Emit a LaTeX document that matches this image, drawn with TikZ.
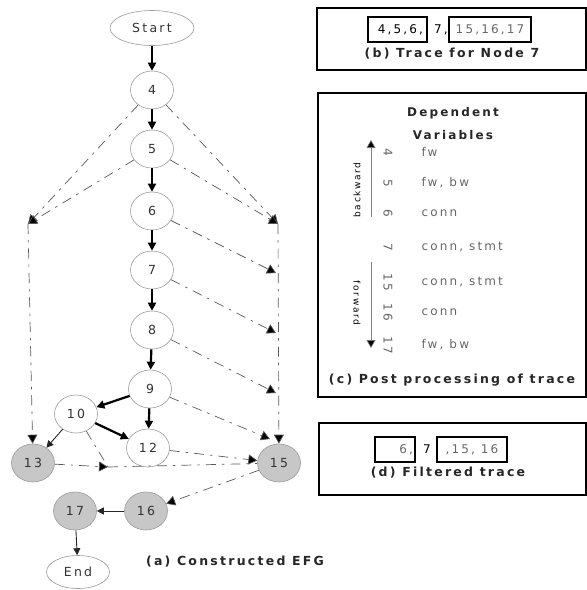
\documentclass[tikz,border=0pt]{standalone}
\usepackage{fontspec}
\setmainfont{DejaVu Sans}[LetterSpace=18]
\usetikzlibrary{arrows.meta,shapes.geometric}

\begin{document}
\begin{tikzpicture}[x=1pt,y=-1pt,
  every node/.style={font=\fontsize{12}{14}\selectfont},
  vtx/.style={ellipse, draw=black!40, line width=0.6pt, minimum width=43pt, minimum height=38pt, inner sep=0pt, text=black!80, font=\fontsize{12.5}{14}\selectfont},
  hit/.style={vtx, fill=black!22},
  term/.style={vtx, minimum width=64pt, minimum height=34pt},
  flow/.style={line width=2.2pt, -{Triangle[length=8pt,width=8pt]}},
  link/.style={line width=0.9pt, black!85, -{Triangle[length=7pt,width=7pt]}},
  dep/.style={line width=0.7pt, black!65, dash pattern=on 10pt off 6pt on 2.5pt off 6pt},
  deparr/.style={dep, -{Triangle[length=9pt,width=10pt,fill=black]}},
  panel/.style={draw, line width=1.3pt},
  seg/.style={draw, line width=1.1pt, minimum height=25pt, inner sep=0pt},
  caption/.style={font=\fontsize{12.5}{14}\selectfont\bfseries, text=black!85},
  val/.style={text=black!60},
]
\useasboundingbox (0,0) rectangle (587,590);

% ---------- (a) the constructed EFG ----------
\node[term, minimum width=84pt, minimum height=35pt] (start) at (152,28) {Start};
\node[vtx] (n4) at (152,90) {4};
\node[vtx] (n5) at (152,149) {5};
\node[vtx] (n6) at (152,211) {6};
\node[vtx] (n7) at (152,270) {7};
\node[vtx] (n8) at (152,330) {8};
\node[vtx] (n9) at (150,389) {9};
\node[vtx] (n10) at (76,414) {10};
\node[vtx] (n12) at (148,448) {12};
\node[hit] (n13) at (33,463) {13};
\node[hit] (n15) at (279,463) {15};
\node[hit] (n16) at (146,511) {16};
\node[hit] (n17) at (75,511) {17};
\node[term, minimum width=63pt, minimum height=33pt] (end) at (78,572) {End};

% junction points of the dependence edges
\coordinate (jl) at (28,224);
\coordinate (jr1) at (278,224);
\coordinate (jr2) at (276,273);
\coordinate (jr3) at (276,333);
\coordinate (jr4) at (276,393);
\coordinate (jr5) at (270,439);
\coordinate (jm) at (108,467);

% control flow
\draw[flow] (start) -- (n4);
\draw[flow] (n4) -- (n5);
\draw[flow] (n5) -- (n6);
\draw[flow] (n6) -- (n7);
\draw[flow] (n7) -- (n8);
\draw[flow] (n8) -- (n9);
\draw[flow] (n9) -- (n10);
\draw[flow] (n9) -- (n12);
\draw[flow] (n10) -- (n12);
\draw[link] (n10) -- (n13);
\draw[link] (n16) -- (n17);
\draw[link] (n17) -- (end);

% dependence edges
\draw[deparr] (n4) -- (jl);
\draw[deparr] (n5) -- (jl);
\draw[deparr] (jl) -- (n13);
\draw[deparr] (n4) -- (jr1);
\draw[deparr] (n5) -- (jr1);
\draw[deparr] (jr1) -- (n15);
\draw[deparr] (n6) -- (jr2);
\draw[deparr] (n7) -- (jr3);
\draw[deparr] (n8) -- (jr4);
\draw[deparr] (n9) -- (jr5);
\draw[deparr] (n12) -- (n15);
\draw[deparr] (n13) -- (jm);
\draw[dep] (n10) -- (jm);
\draw[dep] (jm) -- (n15);
\draw[deparr] (n15) -- (n16);

\node[caption] (capa) at (235,562) {(a) Constructed EFG};

% ---------- (b) trace for node 7 ----------
\draw[panel] (317,8) rectangle (586,70);
\node[seg, minimum width=59pt] (b1) at (397.5,29.5) {\hspace{6pt}4,5,6,};
\node (b2) at (441,29.5) {7,};
\node[seg, minimum width=82pt, val] (b3) at (490,29.5) {15,16,17};
\node[caption] (capb) at (452,54) {(b) Trace for Node 7};

% ---------- (c) post processing of trace ----------
\draw[panel] (318,93) rectangle (586,397);
\node[caption, font=\fontsize{12}{14}\selectfont\bfseries] (dep1) at (453,113) {Dependent};
\node[caption, font=\fontsize{12}{14}\selectfont\bfseries] (dep2) at (453,135) {Variables};
\foreach \k/\y/\v in {4/152/fw, 5/183/{fw, bw}, 6/213/conn, 7/247/{conn, stmt},
                      15/282/{conn, stmt}, 16/312/conn, 17/345/{fw, bw}} {
  \node[val, rotate=-90] (num\k) at (388,\y) {\k};
  \node[val, anchor=west] (var\k) at (418,\y) {\v};
}
\coordinate (bwlo) at (371,217);
\coordinate (bwhi) at (371,140);
\coordinate (fwhi) at (371,262);
\coordinate (fwlo) at (371,348);
\draw[line width=0.6pt, black!50, -{Triangle[length=8pt,width=9pt,fill=black]}] (bwlo) -- (bwhi);
\draw[line width=0.6pt, black!50, -{Triangle[length=8pt,width=9pt,fill=black]}] (fwhi) -- (fwlo);
\node[rotate=90, font=\fontsize{9}{10}\selectfont] (bwl) at (357,190) {backward};
\node[rotate=-90, font=\fontsize{9}{10}\selectfont] (fwl) at (357,303) {forward};
\node[caption] (capc) at (452,380) {(c) Post processing of trace};

% ---------- (d) filtered trace ----------
\draw[panel] (319,423) rectangle (586,495);
\node[seg, minimum width=40pt, text width=36pt, align=right, val] (d1) at (395,449.5) {6,};
\node (d2) at (427,449.5) {7};
\node[seg, minimum width=70pt, val] (d3) at (472,449.5) {,15, 16};
\node[caption] (capd) at (448,473) {(d) Filtered trace};
\end{tikzpicture}
\end{document}
